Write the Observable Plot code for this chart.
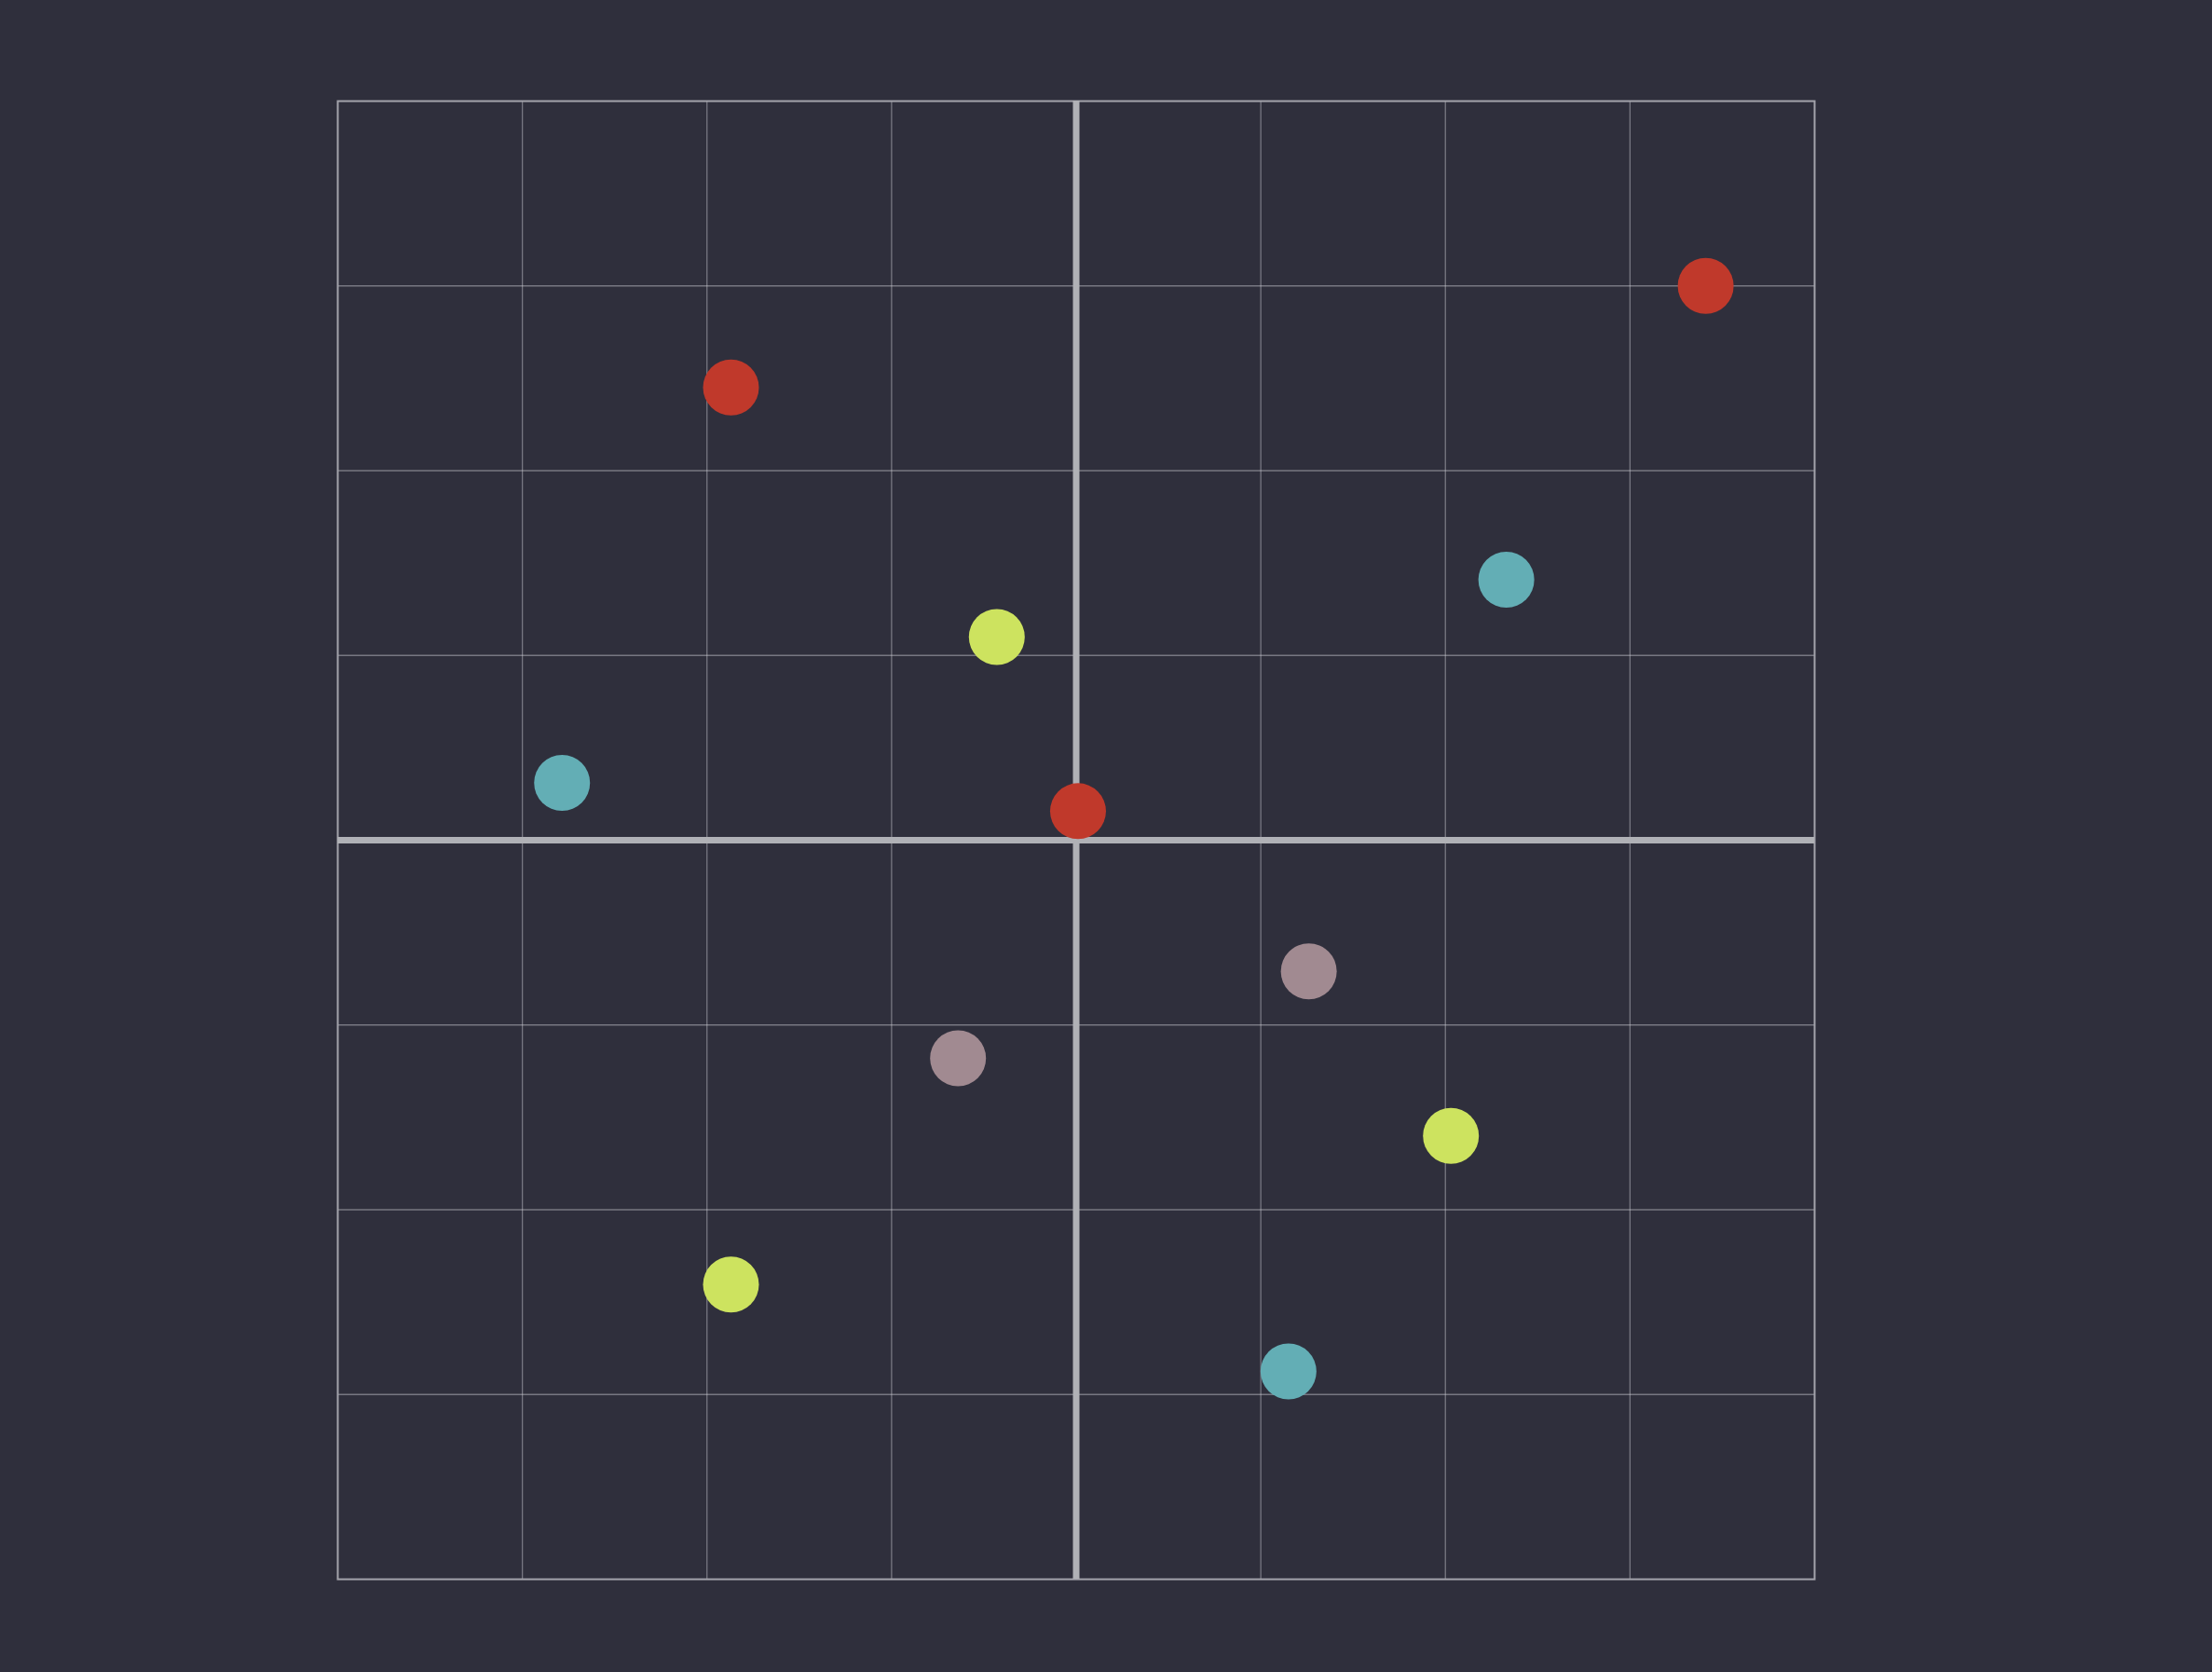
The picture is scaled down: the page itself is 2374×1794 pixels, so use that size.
<!DOCTYPE html>
<html>
<head>
<meta charset="utf-8">
<script src="https://cdn.jsdelivr.net/npm/d3@7"></script>
<script src="https://cdn.jsdelivr.net/npm/@observablehq/plot@0.6"></script>
<style>
  html, body { margin: 0; padding: 0; background: #2f2f3c; }
  #chart { width: 2374px; height: 1794px; }
</style>
</head>
<body>
<div id="chart"></div>
<script>
const categories = ["red", "teal", "lime", "mauve"];
const palette = ["#c0392b", "#63aeb5", "#cde35f", "#a18a91"];

const xValues = [3.41, -1.87, 2.33, -0.43, -2.785, 0.01, 1.26, -0.64, 2.03, -1.87, 1.15];
const yValues = [3.0, 2.45, 1.41, 1.10, 0.31, 0.157, -0.71, -1.18, -1.60, -2.405, -2.875];
const groups  = ["red", "red", "teal", "lime", "teal", "red", "mauve", "mauve", "lime", "lime", "teal"];

const gridTicks = [-3, -2, -1, 1, 2, 3];

const data = xValues.map((x, i) => ({x, y: yValues[i], group: groups[i]}));

const chart = Plot.plot({
  width: 2374,
  height: 1794,
  marginLeft: 362,
  marginRight: 427,
  marginTop: 108,
  marginBottom: 100,
  style: {background: "#2f2f3c"},
  x: {domain: [-4, 4], axis: null},
  y: {domain: [-4, 4], axis: null},
  color: {domain: categories, range: palette},
  marks: [
    Plot.ruleX(gridTicks, {stroke: "#d0d0d8", strokeOpacity: 0.45, strokeWidth: 1.3}),
    Plot.ruleY(gridTicks, {stroke: "#d0d0d8", strokeOpacity: 0.45, strokeWidth: 1.3}),
    Plot.frame({stroke: "#a3a3ab", strokeWidth: 2}),
    Plot.ruleX([0], {stroke: "#b0b1b6", strokeWidth: 7}),
    Plot.ruleY([0], {stroke: "#b0b1b6", strokeWidth: 7}),
    Plot.dot(data, {x: "x", y: "y", fill: "group", r: 30})
  ]
});
document.getElementById("chart").appendChild(chart);
</script>
</body>
</html>
